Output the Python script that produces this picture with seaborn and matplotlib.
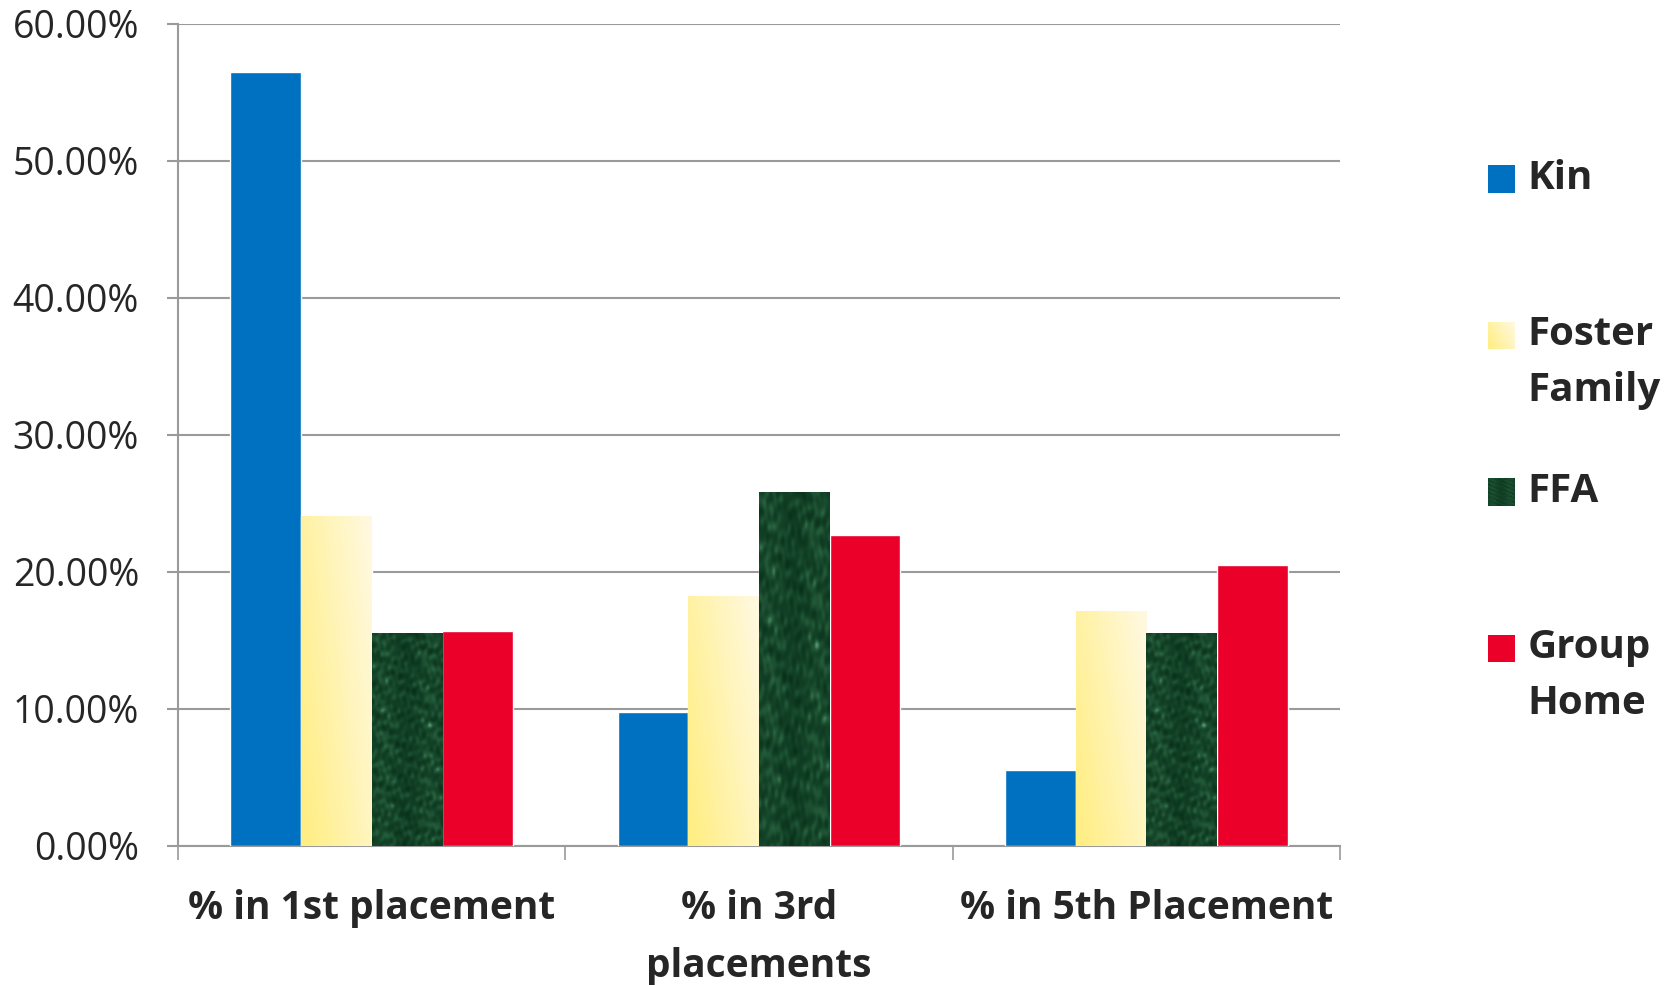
import numpy as np
import pandas as pd
import seaborn as sns
import matplotlib
matplotlib.use("Agg")
import matplotlib.pyplot as plt
from matplotlib.ticker import FixedLocator, PercentFormatter
from matplotlib.colors import LinearSegmentedColormap

# values (in %)
categories = ["% in 1st placement", "% in 3rd\nplacements", "% in 5th Placement"]
kin = [56.5, 9.8, 5.5]
foster = [24.1, 18.2, 17.1]
ffa = [15.5, 25.8, 15.5]
group_home = [15.7, 22.7, 20.5]
series = ["Kin", "Foster Family", "FFA", "Group Home"]
legend_labels = ["Kin", "Foster\nFamily", "FFA", "Group\nHome"]
colors = ["#0070C0", "#FFF2A0", "#1B4A2A", "#EA0029"]

df = pd.DataFrame({
    "category": categories * 4,
    "value": kin + foster + ffa + group_home,
    "type": [s for s in series for _ in categories],
})

sns.set_theme(style="white")
plt.rcParams["font.family"] = ["Open Sans", "DejaVu Sans"]
text_col = "#262626"
grid_col = "#9A9A9A"

fig = plt.figure(figsize=(16.73, 9.85), dpi=100)
ax = fig.add_axes([0.1064, 0.1413, 0.6945, 0.8348])

sns.barplot(data=df, x="category", y="value", hue="type", hue_order=series,
            palette=colors, saturation=1, width=0.73, gap=0, legend=False,
            errorbar=None, ax=ax, zorder=3)

# fills: diagonal gradient for foster family, mottled marble for FFA
yy, xx = np.mgrid[0:240, 0:80].astype(float)
grad = (xx / 80.0) * 0.65 + (1 - yy / 240.0) * 0.35
grad_cmap = LinearSegmentedColormap.from_list("foster", ["#FFEE80", "#FFF9E2"])

tex = np.zeros_like(xx)
for k in range(14):
    ang = k * 2.39996
    freq = 0.12 + 0.09 * (k % 5) + 0.05 * k
    tex += np.sin(freq * (xx * np.cos(ang) + yy * np.sin(ang)) + k * 1.7) / (1 + 0.15 * k)
tex = (tex - tex.min()) / (tex.max() - tex.min())
tex = tex ** 1.4
tex_cmap = LinearSegmentedColormap.from_list("ffa", ["#08301A", "#134227", "#245C3A", "#56966F"])

ax.set_xlim(-0.5, 2.5)
ax.set_ylim(0, 60)
for cont, img, cm in [(ax.containers[1], grad, grad_cmap), (ax.containers[2], tex, tex_cmap)]:
    for p in cont.patches:
        x0, y0 = p.get_x(), p.get_y()
        w, h = p.get_width(), p.get_height()
        im = ax.imshow(img, extent=[x0, x0 + w, y0, y0 + h], aspect="auto",
                       cmap=cm, origin="upper", zorder=3.5, interpolation="bilinear")
        im.set_clip_path(p)
ax.set_xlim(-0.5, 2.5)
ax.set_ylim(0, 60)
ax.set_aspect("auto")

# axes styling
ax.set_xlabel("")
ax.set_ylabel("")
ax.set_yticks(np.arange(0, 61, 10))
ax.yaxis.set_major_formatter(PercentFormatter(decimals=2))
ax.grid(axis="y", color=grid_col, linewidth=1.5, zorder=0)
ax.set_axisbelow(True)
for s in ["top", "right"]:
    ax.spines[s].set_visible(False)
for s in ["left", "bottom"]:
    ax.spines[s].set_color(grid_col)
    ax.spines[s].set_linewidth(1.5)

ax.tick_params(axis="y", length=8, width=1.5, color=grid_col, pad=20,
               labelsize=27, labelcolor=text_col, left=True)
ax.xaxis.set_minor_locator(FixedLocator([-0.5, 0.5, 1.5, 2.5]))
ax.tick_params(axis="x", which="minor", length=10, width=1.2, color=grid_col, bottom=True)
ax.tick_params(axis="x", which="major", length=0, pad=31)
for lbl in ax.get_xticklabels():
    lbl.set_fontsize(28)
    lbl.set_fontweight("bold")
    lbl.set_color(text_col)
    lbl.set_linespacing(1.65)
    lbl.set_verticalalignment("top")

# legend on the right
ys = [0.818, 0.659, 0.500, 0.341]
for col, lab, y, i in zip(colors, legend_labels, ys, range(4)):
    sw = fig.add_axes([0.8945 - 0.005, y - 0.0135, 0.016, 0.028])
    sw.set_axis_off()
    if i == 1:
        sw.imshow(grad, cmap=grad_cmap, aspect="auto")
    elif i == 2:
        sw.imshow(tex, cmap=tex_cmap, aspect="auto")
    else:
        sw.add_patch(plt.Rectangle((0, 0), 1, 1, color=col, transform=sw.transAxes))
    fig.text(0.913, y + 0.021, lab, fontsize=29, fontweight="bold", color=text_col,
             va="top", ha="left", linespacing=1.55)

fig.savefig("out.png", dpi=100)
